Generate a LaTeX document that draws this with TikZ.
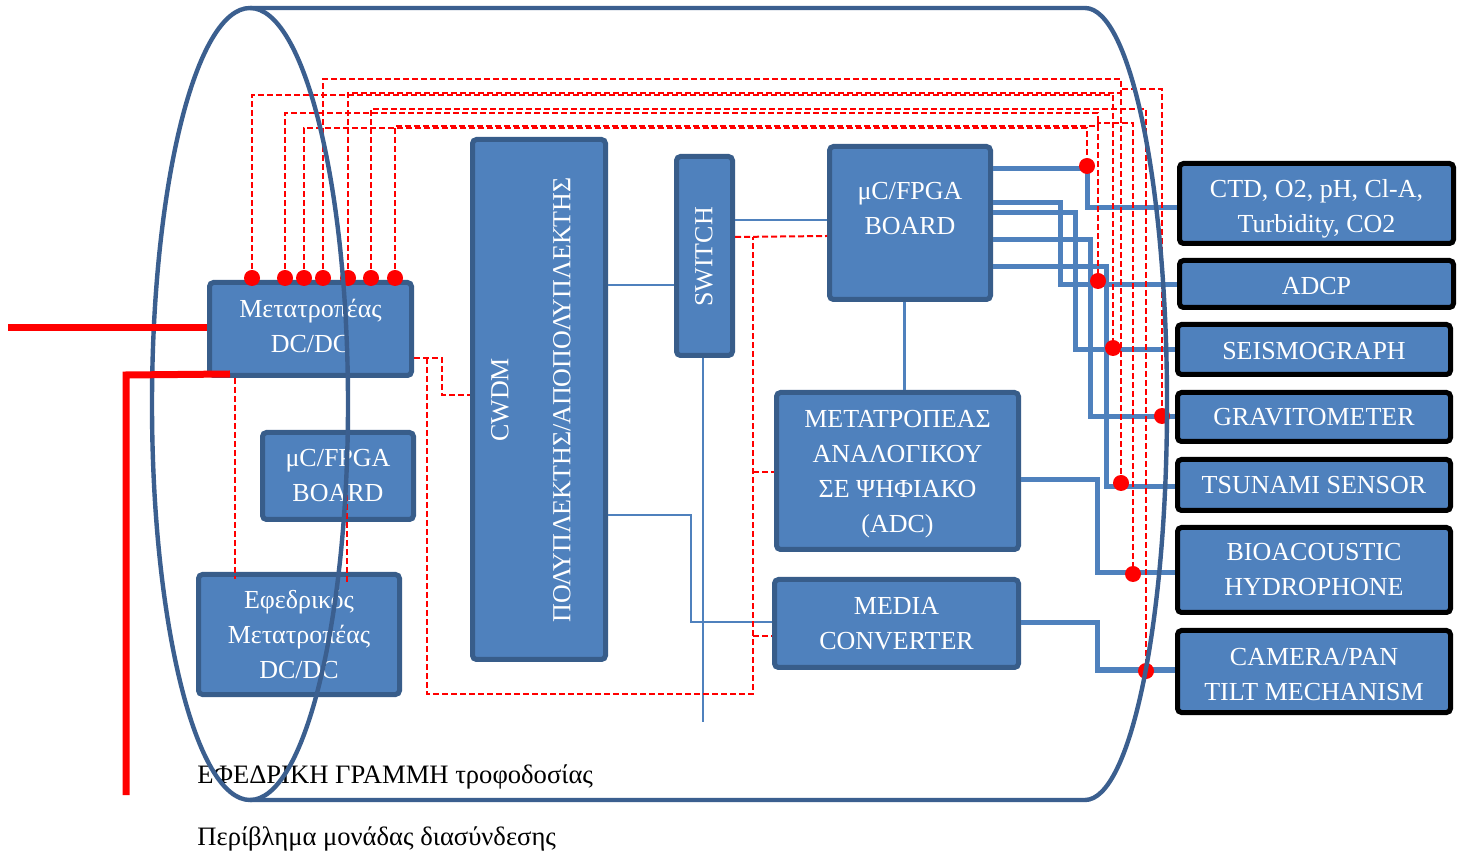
\documentclass[tikz,border=0pt]{standalone}
\usepackage{fontspec}
\setmainfont{Liberation Serif}
\newcommand{\boxfont}{\fontsize{13pt}{17.5pt}\selectfont}
\newcommand{\capfont}{\fontsize{13.3pt}{17.5pt}\selectfont}
\definecolor{bfill}{HTML}{4F81BD}
\definecolor{bord}{HTML}{385D8A}
\definecolor{lblue}{HTML}{4F81BD}
\definecolor{cylc}{HTML}{3B5F8F}
\tikzset{
  blk/.style={draw=bord, fill=bfill, line width=2.5pt, rounded corners=2pt, text=white, align=center, inner sep=0pt, font=\boxfont},
  sen/.style={blk, draw=black},
  lbl/.style={text=white, align=center, inner sep=0pt, font=\boxfont},
  thickb/.style={draw=lblue, line width=2.5pt},
  thinb/.style={draw=lblue, line width=1pt},
  rdash/.style={draw=red, line width=1pt, dash pattern=on 3pt off 1.5pt},
  rdashs/.style={draw=red, line width=0.8pt, dash pattern=on 3pt off 1.5pt},
  rdot/.style={circle, fill=red, inner sep=0pt, minimum size=8pt},
  pline/.style={draw=red, line width=3.5pt},
  cyl/.style={draw=cylc, line width=2.2pt},
}
\begin{document}
\begin{tikzpicture}[x=0.5pt,y=-0.5pt]
\fill[white] (0,0) rectangle (1466,854);
\useasboundingbox (0,0) rectangle (1466,854);

% blocks
\node[blk, minimum width=101pt, minimum height=46.5pt] (dcdc) at (310.5,329) {};
\node[lbl] (dcdclbl) at (310.5,325.5) {Μετατροπέας\\DC/DC};
\node[blk, minimum width=75.5pt, minimum height=43.5pt] (ucs) at (338,476) {μC/FPGA\\BOARD};
\node[blk, minimum width=100.5pt, minimum height=60pt] (ef) at (299,634.5) {Εφεδρικός\\Μετατροπέας\\DC/DC};
\node[blk, minimum width=66.5pt, minimum height=260pt] (cwdm) at (539,399.5) {};
\node[lbl, rotate=90] (cwdmlbl) at (531,400) {CWDM\\[13.5pt]ΠΟΛΥΠΛΕΚΤΗΣ/ΑΠΟΠΟΛΥΠΛΕΚΤΗΣ};
\node[blk, minimum width=28pt, minimum height=99.5pt] (sw) at (704.5,256) {};
\node[lbl, rotate=90] (swlbl) at (704,257) {SWITCH};
\node[blk, minimum width=80.5pt, minimum height=76.5pt] (uc) at (910,223) {};
\node[lbl] (uclbl) at (910,209) {μC/FPGA\\BOARD};
\node[blk, minimum width=121pt, minimum height=78.5pt] (adc) at (897.5,471) {};
\node[lbl] (adclbl) at (897.5,474) {ΜΕΤΑΤΡΟΠΕΑΣ\\ΑΝΑΛΟΓΙΚΟΥ\\ΣΕ ΨΗΦΙΑΚΟ\\(ADC)};
\node[blk, minimum width=122pt, minimum height=44pt] (media) at (896.5,623.5) {MEDIA\\CONVERTER};

% sensors
\node[sen, minimum width=137pt, minimum height=40pt] (ctd) at (1316.5,203.5) {};
\node[lbl] (ctdlbl) at (1316.5,209) {CTD, O2, pH, Cl-A,\\Turbidity, CO2};
\node[sen, minimum width=137pt, minimum height=23.5pt] (adcp) at (1316.5,284) {};
\node[lbl] (adcplbl) at (1316.5,286) {ADCP};
\node[sen, minimum width=136.5pt, minimum height=25pt] (seis) at (1314,349.5) {};
\node[lbl] (seislbl) at (1314,351) {SEISMOGRAPH};
\node[sen, minimum width=136.5pt, minimum height=24.5pt] (grav) at (1314,417) {GRAVITOMETER};
\node[sen, minimum width=136.5pt, minimum height=25.5pt] (tsu) at (1314,485) {TSUNAMI SENSOR};
\node[sen, minimum width=136.5pt, minimum height=42.5pt] (bio) at (1314,570) {BIOACOUSTIC\\HYDROPHONE};
\node[sen, minimum width=136.5pt, minimum height=41pt] (cam) at (1314,671.5) {};
\node[lbl] (camlbl) at (1314,675) {CAMERA/PAN\\TILT MECHANISM};

% thin blue connectors
\coordinate (swend) at (703,722);
\draw[thinb] (cwdm.east |- 0,285) -- (sw.west |- 0,285);
\draw[thinb] (sw.east |- 0,220) -- (uc.west |- 0,220);
\draw[thinb] (sw.south -| 703,0) -- (swend);
\draw[thinb] (cwdm.east |- 0,515) -| (691,622) -- (media.west |- 0,622);
\draw[draw=lblue, line width=1.5pt] (uc.south -| 904,0) -- (adc.north -| 904,0);

% thick blue connectors
\draw[thickb] (uc.east |- 0,169) -| (1087,208) -- (ctd.west |- 0,208);
\draw[thickb] (uc.east |- 0,203) -| (1060,285) -- (adcp.west |- 0,285);
\draw[thickb] (uc.east |- 0,213) -| (1075,350) -- (seis.west |- 0,350);
\draw[thickb] (uc.east |- 0,240) -| (1090,417) -- (grav.west |- 0,417);
\draw[thickb] (uc.east |- 0,267) -| (1106,487) -- (tsu.west |- 0,487);
\draw[thickb] (adc.east |- 0,480) -| (1097,573) -- (bio.west |- 0,573);
\draw[thickb] (media.east |- 0,623) -| (1097,670) -- (cam.west |- 0,670);

% dots
\node[rdot] (d1) at (252,278) {};
\node[rdot] (d2) at (285,278) {};
\node[rdot] (d3) at (304,278) {};
\node[rdot] (d4) at (323,278) {};
\node[rdot] (d5) at (348,278) {};
\node[rdot] (d6) at (371,278) {};
\node[rdot] (d7) at (395,278) {};
\coordinate (rC) at (1087,166);
\coordinate (rA) at (1098,281);
\coordinate (rS) at (1113,348);
\coordinate (rG) at (1162,416);
\coordinate (rT) at (1121,483);
\coordinate (rB) at (1133,574);
\coordinate (rK) at (1146,671);

% red dashed power distribution
\draw[rdash] (d1.center) -- (d1.center |- 0,95) -- (rS |- 0,95) -- (rS);
\draw[rdash] (d2.center) -- (d2.center |- 0,113) -- (rA |- 0,113) -- (rA);
\draw[rdash] (d3.center) -- (d3.center |- 0,128) -- (rC |- 0,128) -- (rC);
\draw[rdash] (d4.center) -- (d4.center |- 0,79) -- (rT |- 0,79) -- (rT);
\draw[rdash] (d5.center) -- (d5.center |- 0,93) -- (1121,93) -- (1121,89) -- (rG |- 0,89) -- (rG);
\draw[rdash] (d6.center) -- (d6.center |- 0,109) -- (rK |- 0,109) -- (rK);
\draw[rdash] (d7.center) -- (d7.center |- 0,126) -- (1098,126) -- (1098,123) -- (rB |- 0,123) -- (rB);

\draw[rdash] (dcdc.east |- 0,358) -- (442,358) -- (442,395) -- (cwdm.west |- 0,395);
\draw[rdash] (427,358) -- (427,694) -- (753,694) -- (753,237);
\draw[rdash] (sw.east |- 0,237) -- (uc.west |- 0,236);
\draw[rdash] (753,472) -- (adc.west |- 0,472);
\draw[rdash] (753,636) -- (media.west |- 0,636);
\draw[rdashs] (dcdc.south -| 235,0) -- (ef.north -| 235,0) -- ++(0,7);
\draw[rdashs] (dcdc.south -| 347,0) -- (ef.north -| 347,0) -- ++(0,11);

\node[rdot] (e1) at (rC) {};
\node[rdot] (e2) at (rA) {};
\node[rdot] (e3) at (rS) {};
\node[rdot] (e4) at (rG) {};
\node[rdot] (e5) at (rT) {};
\node[rdot] (e6) at (rB) {};
\node[rdot] (e7) at (rK) {};

% bottom labels
\node[anchor=west, inner sep=0pt, font=\capfont] (lab1) at (197,777) {ΕΦΕΔΡΙΚΗ ΓΡΑΜΜΗ τροφοδοσίας};
\node[anchor=west, inner sep=0pt, font=\capfont] (lab2) at (197,839) {Περίβλημα μονάδας διασύνδεσης};

% cylinder
\draw[cyl] (250,404) ellipse [x radius=49pt, y radius=198pt];
\draw[cyl] (250,8) -- (1085,8) arc[start angle=90, end angle=-90, x radius=41pt, y radius=198pt] -- (250,800);

% main power lines
\draw[pline] (8,328) -- (dcdc.west |- 0,328);
\draw[pline] (126,795) -- (126,375) -- (230,374);
\end{tikzpicture}
\end{document}
